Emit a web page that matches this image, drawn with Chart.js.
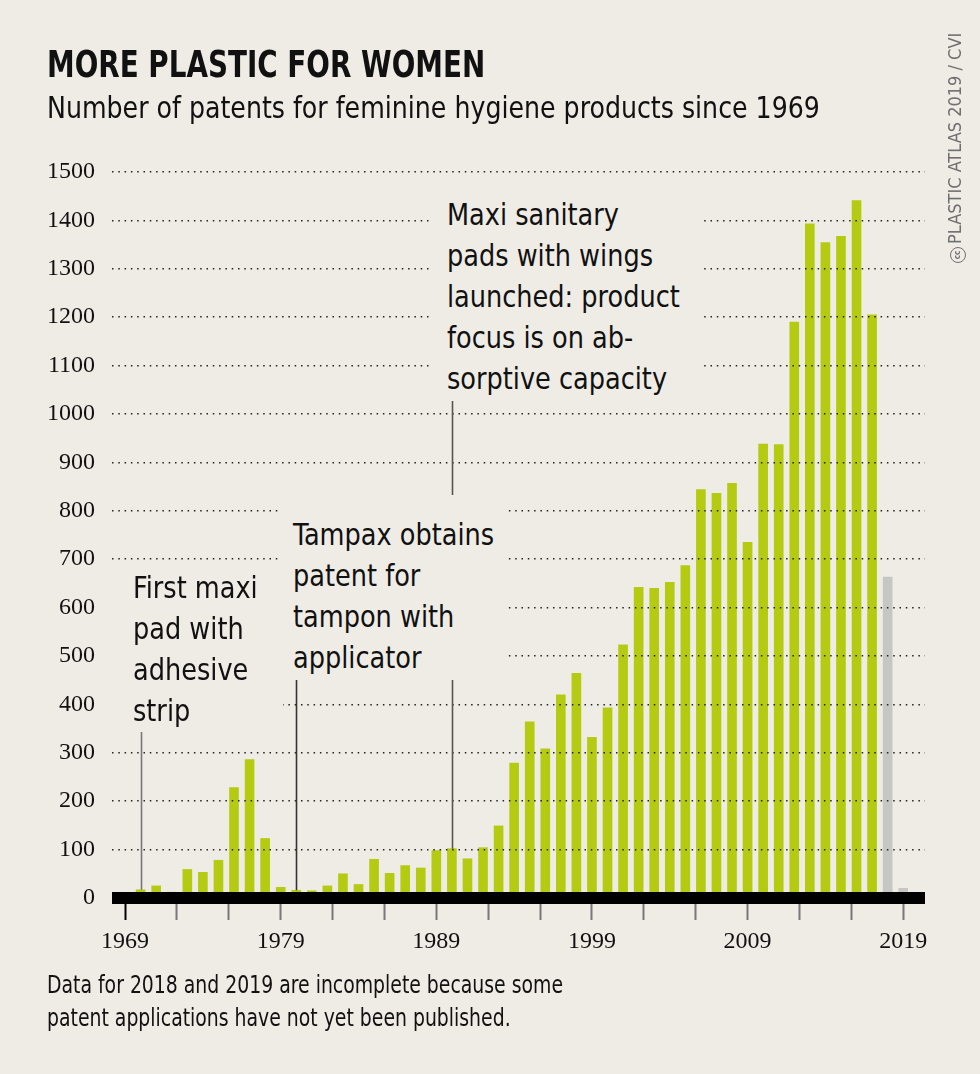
<!DOCTYPE html>
<html lang="en">
<head>
<meta charset="UTF-8">
<title>More plastic for women</title>
<script src="https://cdn.jsdelivr.net/npm/chart.js@4.4.1/dist/chart.umd.min.js"></script>
<style>
    body {
        margin: 0;
        background: #efece6;
        width: 980px;
        height: 1074px;
        overflow: hidden;
        font-family: "Liberation Sans Narrow", "DejaVu Sans Condensed", "Liberation Sans", sans-serif;
        color: #111;
    }
    .wrap { position: relative; width: 980px; height: 1074px; }
    .chart-box { position: absolute; left: 0; top: 0; width: 980px; height: 1074px; }
    .squeeze { display: inline-block; transform-origin: 0 0; white-space: nowrap; }
    .title {
        position: absolute; left: 47px; top: 46px;
        font-size: 37px; line-height: 37px; font-weight: bold;
        white-space: nowrap;
    }
    .title .squeeze { transform: scaleX(0.835); }
    .subtitle {
        position: absolute; left: 47px; top: 92px;
        font-size: 31px; line-height: 31px;
        white-space: nowrap;
    }
    .subtitle .squeeze { transform: scaleX(0.906); }
    .note {
        position: absolute; left: 47px; top: 969px;
        font-size: 24px; line-height: 33px;
    }
    .note .squeeze { transform: scaleX(0.873); }
    .anno {
        position: absolute;
        background: #efece6;
        font-size: 31px; line-height: 41px;
        box-sizing: border-box;
        white-space: nowrap;
    }
    .anno .squeeze { transform: scaleX(0.918); }
    .credit {
        position: absolute; left: 945px; top: 263px;
        width: 245px; height: 20px;
        transform-origin: 0 0;
        transform: rotate(-90deg);
        font-size: 18px; line-height: 20px;
        color: #6f6f6f;
        white-space: nowrap;
    }
    .cc {
        display: inline-block; width: 14px; height: 14px;
        border: 1.5px solid #6f6f6f; border-radius: 50%;
        font-size: 8px; line-height: 14px; text-align: center;
        font-weight: bold; vertical-align: 1px; margin-right: 3px;
        box-sizing: content-box;
    }
</style>
</head>
<body>
<div class="wrap">
    <div class="chart-box"><canvas id="patentChart"></canvas></div>

    <div class="title"><span class="squeeze">MORE PLASTIC FOR WOMEN</span></div>
    <div class="subtitle"><span class="squeeze">Number of patents for feminine hygiene products since 1969</span></div>

    <div class="anno" style="left:430px; top:188px; width:273px; height:212px; padding:6px 0 0 17px;"><span class="squeeze">Maxi sanitary<br>pads with wings<br>launched: product<br>focus is on ab-<br>sorptive capacity</span></div>
    <div class="anno" style="left:278px; top:495px; width:229px; height:185px; padding:19px 0 0 15px;"><span class="squeeze">Tampax obtains<br>patent for<br>tampon with<br>applicator</span></div>
    <div class="anno" style="left:112px; top:567px; width:171px; height:158px; padding:0 0 0 21px;"><span class="squeeze">First maxi<br>pad with<br>adhesive<br>strip</span></div>

    <div class="note"><span class="squeeze">Data for 2018 and 2019 are incomplete because some<br>patent applications have not yet been published.</span></div>
    <div class="credit"><span class="cc">cc</span>PLASTIC ATLAS 2019 / CVI</div>
</div>

<script>
    // values
    const years = [1970, 1971, 1972, 1973, 1974, 1975, 1976, 1977, 1978, 1979,
                   1980, 1981, 1982, 1983, 1984, 1985, 1986, 1987, 1988, 1989,
                   1990, 1991, 1992, 1993, 1994, 1995, 1996, 1997, 1998, 1999,
                   2000, 2001, 2002, 2003, 2004, 2005, 2006, 2007, 2008, 2009,
                   2010, 2011, 2012, 2013, 2014, 2015, 2016, 2017, 2018, 2019];
    const patents = [17, 25, 12, 59, 53, 78, 228, 286, 123, 22,
                     16, 15, 25, 50, 28, 80, 51, 67, 62, 98,
                     102, 81, 104, 149, 279, 364, 308, 420, 464, 332,
                     393, 523, 642, 640, 652, 687, 844, 836, 857, 735,
                     938, 937, 1190, 1393, 1354, 1367, 1441, 1205, 663, 20];
    const incompleteYears = [2018, 2019];
    const decadeLabels = [1969, 1979, 1989, 1999, 2009, 2019];
    // events pointed at by the leader lines
    const eventYears = [1970, 1980, 1990];

    const GREEN = '#b5cb12';
    const GREY = '#c6c6c4';

    // axis ticks: three per decade between the labelled years
    const xTicks = [];
    decadeLabels.forEach((d, i) => {
        xTicks.push(d);
        if (i < decadeLabels.length - 1) {
            xTicks.push(d + 10 / 3, d + 20 / 3);
        }
    });

    // thick black baseline plus the annotation leader lines
    const overlay = {
        id: 'overlay',
        afterDraw(chart) {
            const { ctx, scales, chartArea } = chart;
            const y0 = scales.y.getPixelForValue(0);
            ctx.save();
            ctx.fillStyle = '#000';
            ctx.fillRect(chartArea.left, y0 - 6, chartArea.right - chartArea.left, 12);

            const starts = [732, 680, 401];
            const colors = ['#777', '#333', '#555'];
            ctx.lineWidth = 1.6;
            eventYears.forEach((yr, i) => {
                const x = Math.round(scales.x.getPixelForValue(yr)) + 0.5;
                const v = patents[years.indexOf(yr)];
                const yEnd = Math.min(scales.y.getPixelForValue(v), y0 - 6);
                ctx.strokeStyle = colors[i];
                ctx.beginPath();
                ctx.moveTo(x, starts[i]);
                ctx.lineTo(x, yEnd);
                ctx.stroke();
            });
            ctx.restore();
        }
    };

    const ctx = document.getElementById('patentChart').getContext('2d');
    new Chart(ctx, {
        type: 'bar',
        data: {
            datasets: [{
                data: years.map((yr, i) => ({ x: yr, y: patents[i] })),
                backgroundColor: years.map(yr => incompleteYears.includes(yr) ? GREY : GREEN),
                borderWidth: 0,
                barThickness: 9
            }]
        },
        options: {
            responsive: true,
            maintainAspectRatio: false,
            animation: false,
            layout: { padding: { left: 42, right: 55, top: 172, bottom: 126 } },
            plugins: {
                legend: { display: false },
                tooltip: { enabled: false }
            },
            scales: {
                x: {
                    type: 'linear',
                    min: 1968.16,
                    max: 2020.4,
                    offset: false,
                    afterBuildTicks: s => { s.ticks = xTicks.map(v => ({ value: v })); },
                    afterFit: s => { s.height = 50; },
                    ticks: {
                        autoSkip: false,
                        maxRotation: 0,
                        padding: 7,
                        color: '#111',
                        font: { family: '"Liberation Serif", serif', size: 24 },
                        callback: v => {
                            const r = Math.round(v);
                            return Math.abs(v - r) < 0.01 && decadeLabels.includes(r) ? String(r) : '';
                        }
                    },
                    grid: {
                        z: 2,
                        offset: false,
                        drawOnChartArea: false,
                        drawTicks: true,
                        tickLength: 22,
                        tickWidth: 2,
                        tickColor: c => (c.tick && Math.abs(c.tick.value - 1969) < 0.01) ? '#000' : '#777'
                    },
                    border: { display: false }
                },
                y: {
                    min: 0,
                    max: 1500,
                    afterFit: s => { s.width = 70; },
                    ticks: {
                        stepSize: 100,
                        padding: 17,
                        color: '#111',
                        font: { family: '"Liberation Serif", serif', size: 24 },
                        callback: v => String(v)
                    },
                    grid: {
                        z: 1,
                        drawTicks: false,
                        lineWidth: 1.5,
                        color: c => c.tick && c.tick.value === 0 ? 'rgba(0,0,0,0)' : '#222'
                    },
                    border: { display: false, dash: [1.5, 4.8] }
                }
            }
        },
        plugins: [overlay]
    });
</script>
</body>
</html>
